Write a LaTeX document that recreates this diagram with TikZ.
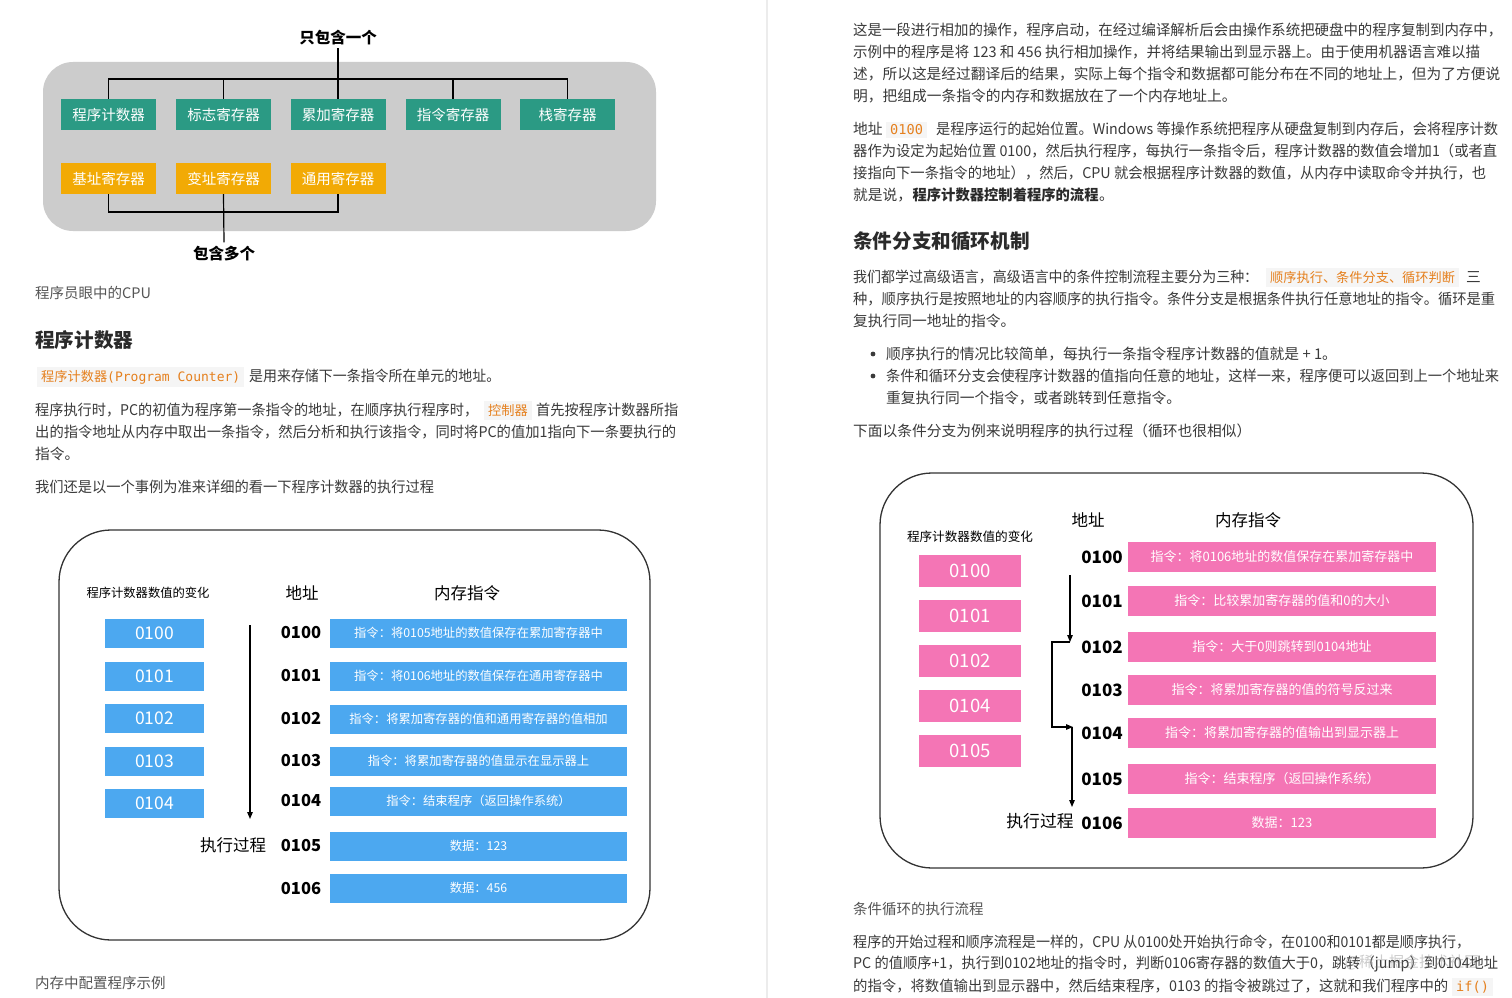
\documentclass[tikz,border=0pt]{standalone}
\usepackage{graphicx}
\usepackage{fontspec}
\setmainfont{Noto Sans CJK SC}
\newfontfamily\mono{DejaVu Sans Mono}
\usetikzlibrary{arrows.meta}
\definecolor{txt}{HTML}{3A3A3A}
\definecolor{head}{HTML}{2A2A2A}
\definecolor{cap}{HTML}{555555}
\definecolor{codebg}{HTML}{F5F5F5}
\definecolor{codeor}{HTML}{E5801E}
\definecolor{teal}{HTML}{2B9A84}
\definecolor{amber}{HTML}{F2AA05}
\definecolor{panel}{HTML}{CCCCCC}
\definecolor{blu}{HTML}{4CA8F0}
\definecolor{pnk}{HTML}{F475B5}
\definecolor{frame}{HTML}{333333}
\definecolor{divc}{HTML}{ECECEC}
\newcommand\myfs[1]{\fontsize{#1}{#1}\selectfont}
\newcommand\fitw[2]{\resizebox{#1pt}{\height}{#2}}
\begin{document}
\begin{tikzpicture}[x=1pt,y=-1pt,
  body/.style={anchor=west, inner sep=0pt, text=txt, font=\myfs{14.75}},
  capt/.style={anchor=west, inner sep=0pt, text=cap, font=\myfs{14.5}},
  heading/.style={anchor=west, inner sep=0pt, text=head, font=\bfseries\myfs{19.6}},
  code/.style={fill=codebg, text=codeor, inner xsep=4pt, inner ysep=3pt, font=\myfs{13.2}},
  regbox/.style={minimum width=95pt, minimum height=31pt, inner sep=0pt, text=white, font=\myfs{14.5}},
  one/.style={regbox, fill=teal},
  many/.style={regbox, fill=amber},
  dlabel/.style={inner sep=0pt, text=black, font=\bfseries\myfs{15.5}},
  conn/.style={draw=black, line width=1.2pt},
  dframe/.style={draw=frame, line width=1.3pt, rounded corners=52pt},
  lnum/.style={minimum width=99pt, minimum height=29pt, inner sep=0pt, fill=blu, text=white, font=\myfs{17.5}},
  lmem/.style={minimum width=297pt, minimum height=29pt, inner sep=0pt, fill=blu, text=white, font=\myfs{12.3}},
  rnum/.style={minimum width=102pt, minimum height=32pt, inner sep=0pt, fill=pnk, text=white, font=\myfs{18.5}},
  rmem/.style={minimum width=308pt, minimum height=30pt, inner sep=0pt, fill=pnk, text=white, font=\myfs{13}},
  addr/.style={inner sep=0pt, text=black, font=\bfseries\myfs{16.5}},
  colh/.style={inner sep=0pt, text=black, font=\myfs{16.5}},
  small/.style={inner sep=0pt, text=black, font=\myfs{12.3}},
  arr/.style={draw=black, line width=1.2pt, -{Triangle[length=7pt,width=5.5pt]}}
]
\fill[white] (0,0) rectangle (1512,998);
\useasboundingbox (0,0) rectangle (1512,998);
\draw[divc, line width=2pt] (767,0) -- (767,998);

% ---------- top diagram ----------
\fill[panel, rounded corners=30pt] (43,62) rectangle (656,231);
\node[one] (pc) at (108.5,114.5) {程序计数器};
\node[one] (flag) at (223.5,114.5) {标志寄存器};
\node[one] (acc) at (338,114.5) {累加寄存器};
\node[one] (ir) at (453,114.5) {指令寄存器};
\node[one] (sp) at (567.5,114.5) {栈寄存器};
\node[many] (base) at (108.5,178.5) {基址寄存器};
\node[many] (idx) at (223.5,178.5) {变址寄存器};
\node[many] (gen) at (338,178.5) {通用寄存器};
\node[dlabel] (onlyone) at (338,38) {只包含一个};
\node[dlabel] (several) at (224,254) {包含多个};
\coordinate (bar) at (0,79);
\coordinate (bbar) at (0,212);
\draw[conn] (pc.north) -- (pc.north |- bar) -- (sp.north |- bar) -- (sp.north);
\draw[conn] (flag.north) -- (flag.north |- bar);
\draw[conn] (ir.north) -- (ir.north |- bar);
\draw[conn] (acc.north) -- ([yshift=-2pt]onlyone.south);
\draw[conn] (base.south) -- (base.south |- bbar) -- (gen.south |- bbar) -- (gen.south);
\draw[conn] (idx.south) -- ([yshift=4pt]several.north);

% ---------- left text ----------
\coordinate (x37) at (37,0);
\coordinate (x484) at (484,0);
\coordinate (x536) at (536,0);
\node[capt] (c1) at (35,293) {程序员眼中的CPU};
\node[heading] (h1) at (35,340) {程序计数器};
\node[body] (t1) at (249,376) {\fitw{251}{是用来存储下一条指令所在单元的地址。}};
\node[code, anchor=base west] (k1) at (t1.base -| x37) {程序计数器{\mono\myfs{13}(Program Counter)}};
\node[body] (t2a) at (35,410) {\fitw{443}{程序执行时，PC的初值为程序第一条指令的地址，在顺序执行程序时，}};
\node[code, anchor=base west] (t2b) at (t2a.base -| x484) {控制器};
\node[body, anchor=base west] (t2c) at (t2a.base -| x536) {\fitw{142}{首先按程序计数器所指}};
\node[body] (t3) at (35,432) {\fitw{641}{出的指令地址从内存中取出一条指令，然后分析和执行该指令，同时将PC的值加1指向下一条要执行的}};
\node[body] (t4) at (35,454) {指令。};
\node[body] (t5) at (35,487) {\fitw{399}{我们还是以一个事例为准来详细的看一下程序计数器的执行过程}};
\node[capt] (c2) at (35,983) {内存中配置程序示例};

% ---------- left memory diagram ----------
\draw[dframe] (59,530) rectangle (650,940);
\node[small] (lhead) at (148,593) {程序计数器数值的变化};
\node[colh] (laddr) at (302,593) {地址};
\node[colh] (lmemh) at (467,593) {内存指令};
\foreach \n/\y in {0100/633,0101/676,0102/718,0103/761,0104/803}
  \node[lnum] (ln\n) at (154.5,\y) {\n};
\foreach \n/\y/\t in {0100/633/指令：将0105地址的数值保存在累加寄存器中,
                      0101/676/指令：将0106地址的数值保存在通用寄存器中,
                      0102/719/指令：将累加寄存器的值和通用寄存器的值相加,
                      0103/761/指令：将累加寄存器的值显示在显示器上,
                      0104/801/指令：结束程序（返回操作系统）,
                      0105/846/数据：123,
                      0106/888/数据：456}{
  \node[lmem] (lm\n) at (478.5,\y) {\t};
  \node[addr] (la\n) at (301,\y) {\n};
}
\node[colh] (lexec) at (233,845) {执行过程};
\coordinate (lar1) at (250,625);
\coordinate (lar2) at (250,819);
\draw[arr] (lar1) -- (lar2);

% ---------- right text ----------
\coordinate (x886) at (886,0);
\coordinate (x936) at (936,0);
\coordinate (x1266) at (1266,0);
\coordinate (x1466) at (1466,0);
\coordinate (x1452) at (1452,0);
\node[body] (r1) at (853,30) {\fitw{649}{这是一段进行相加的操作，程序启动，在经过编译解析后会由操作系统把硬盘中的程序复制到内存中，}};
\node[body] (r2) at (853,52) {\fitw{627}{示例中的程序是将 123 和 456 执行相加操作，并将结果输出到显示器上。由于使用机器语言难以描}};
\node[body] (r3) at (853,74) {\fitw{647}{述，所以这是经过翻译后的结果，实际上每个指令和数据都可能分布在不同的地址上，但为了方便说}};
\node[body] (r4) at (853,96) {明，把组成一条指令的内存和数据放在了一个内存地址上。};
\node[body] (r5a) at (853,129) {地址};
\node[code, anchor=base west, font=\mono\myfs{13.6}] (r5b) at (r5a.base -| x886) {0100};
\node[body, anchor=base west] (r5c) at (r5a.base -| x936) {\fitw{562}{是程序运行的起始位置。Windows 等操作系统把程序从硬盘复制到内存后，会将程序计数}};
\node[body] (r6) at (853,151) {\fitw{644}{器作为设定为起始位置 0100，然后执行程序，每执行一条指令后，程序计数器的数值会增加1（或者直}};
\node[body] (r7) at (853,173) {\fitw{633}{接指向下一条指令的地址），然后，CPU 就会根据程序计数器的数值，从内存中读取命令并执行，也}};
\node[body] (r8a) at (853,195) {就是说，};
\node[body, anchor=base west, font=\bfseries\myfs{14.75}, text=head] (r8b) at (r8a.base east) {\fitw{186}{程序计数器控制着程序的流程}};
\node[body, anchor=base west] (r8c) at (r8b.base east) {。};
\node[heading] (h2) at (853,241) {条件分支和循环机制};
\node[body] (r9a) at (853,277) {\fitw{405}{我们都学过高级语言，高级语言中的条件控制流程主要分为三种：}};
\node[code, anchor=base west] (r9b) at (r9a.base -| x1266) {顺序执行、条件分支、循环判断};
\node[body, anchor=base west] (r9c) at (r9a.base -| x1466) {三};
\node[body] (r10) at (853,299) {\fitw{642}{种，顺序执行是按照地址的内容顺序的执行指令。条件分支是根据条件执行任意地址的指令。循环是重}};
\node[body] (r11) at (853,321) {复执行同一地址的指令。};
\fill[txt] (873,354) circle (2.4pt);
\fill[txt] (873,376) circle (2.4pt);
\node[body] (b1) at (886,354) {顺序执行的情况比较简单，每执行一条指令程序计数器的值就是 + 1。};
\node[body] (b2) at (886,376) {\fitw{613}{条件和循环分支会使程序计数器的值指向任意的地址，这样一来，程序便可以返回到上一个地址来}};
\node[body] (b3) at (886,398) {重复执行同一个指令，或者跳转到任意指令。};
\node[body] (r12) at (853,431) {下面以条件分支为例来说明程序的执行过程（循环也很相似）};
\node[capt] (c3) at (853,909) {条件循环的执行流程};
\node[body] (r13) at (853,942) {\fitw{617}{程序的开始过程和顺序流程是一样的，CPU 从0100处开始执行命令，在0100和0101都是顺序执行，}};
\node[body] (r14) at (853,964) {\fitw{645}{PC 的值顺序+1，执行到0102地址的指令时，判断0106寄存器的数值大于0，跳转（jump）到0104地址}};
\node[body] (r15a) at (853,986) {\fitw{595}{的指令，将数值输出到显示器中，然后结束程序，0103 的指令被跳过了，这就和我们程序中的}};
\node[code, anchor=base west, font=\mono\myfs{13.6}] (r15b) at (r15a.base -| x1452) {if()};
\node[inner sep=0pt, text=gray, opacity=0.4, font=\myfs{15}] (wm) at (1412,962) {@稀土掘金技术社区};

% ---------- right memory diagram ----------
\draw[dframe] (880,473) rectangle (1473,868);
\node[small, font=\myfs{12.6}] (rhead) at (970,537) {程序计数器数值的变化};
\node[colh] (raddr) at (1088,520) {地址};
\node[colh] (rmemh) at (1248,520) {内存指令};
\foreach \n/\y in {0100/571,0101/616,0102/661,0104/706,0105/751}
  \node[rnum] (rn\n) at (970,\y) {\n};
\foreach \n/\y/\t in {0100/557/指令：将0106地址的数值保存在累加寄存器中,
                      0101/601/指令：比较累加寄存器的值和0的大小,
                      0102/647/指令：大于0则跳转到0104地址,
                      0103/690/指令：将累加寄存器的值的符号反过来,
                      0104/733/指令：将累加寄存器的值输出到显示器上,
                      0105/779/指令：结束程序（返回操作系统）,
                      0106/823/数据：123}{
  \node[rmem] (rm\n) at (1282,\y) {\t};
  \node[addr, font=\bfseries\myfs{17}] (ra\n) at (1102,\y) {\n};
}
\node[colh, font=\myfs{16.8}] (rexec) at (1040,821) {执行过程};
\coordinate (ra1) at (1070,575);
\coordinate (ra2) at (1070,642);
\coordinate (rb1) at (1052,642);
\coordinate (rb2) at (1052,727);
\coordinate (rb3) at (1073,727);
\coordinate (rc1) at (1072,727);
\coordinate (rc2) at (1072,807);
\draw[arr] (ra1) -- (ra2);
\draw[arr] (ra2) -- (rb1) -- (rb2) -- (rb3);
\draw[arr] (rc1) -- (rc2);
\end{tikzpicture}
\end{document}
